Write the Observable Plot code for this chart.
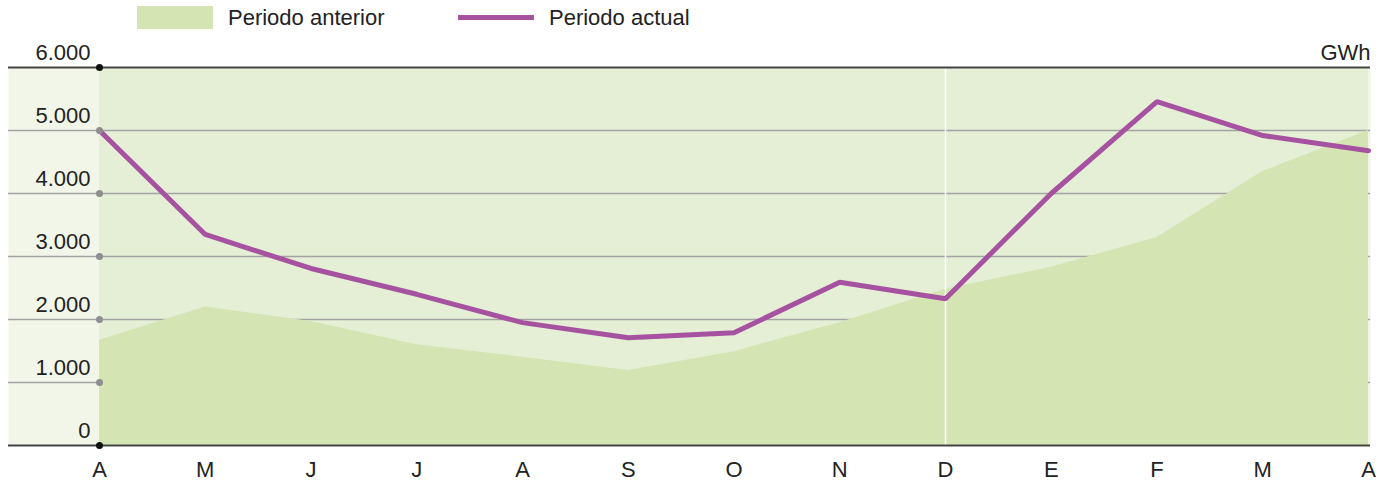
<!DOCTYPE html>
<html>
<head>
<meta charset="utf-8">
<script src="https://cdn.jsdelivr.net/npm/d3@7"></script>
<script src="https://cdn.jsdelivr.net/npm/@observablehq/plot@0.6"></script>
<style>
  html, body { margin: 0; padding: 0; background: #fff; }
  body { width: 1392px; height: 481px; overflow: hidden; font-family: "Liberation Sans", Arial, sans-serif; color: #222; }
  #legend { position: relative; height: 38px; font-size: 22px; }
  #legend .sw { position: absolute; }
  #legend .lb { position: absolute; top: 3px; line-height: 30px; }
</style>
</head>
<body>
<div id="legend">
  <div class="sw" style="left:137px;top:6px;width:76px;height:23px;background:#d4e5b3"></div>
  <div class="lb" style="left:228px">Periodo anterior</div>
  <div class="sw" style="left:458px;top:15px;width:76px;height:5px;background:#a652a0"></div>
  <div class="lb" style="left:549px">Periodo actual</div>
</div>
<div id="chart"></div>
<script>
const months = ["A","M","J","J","A","S","O","N","D","E","F","M","A"];
const periodoAnterior = [1670, 2200, 1970, 1600, 1400, 1190, 1490, 1950, 2480, 2830, 3300, 4350, 5000];
const periodoActual  = [5000, 3350, 2810, 2400, 1950, 1710, 1790, 2590, 2330, 4000, 5460, 4920, 4680];
const yTicks = [0, 1000, 2000, 3000, 4000, 5000, 6000];
const unit = "GWh";

const fmt = d3.formatLocale({decimal: ",", thousands: ".", grouping: [3], currency: ["", ""]}).format(",");
const idx = d3.range(months.length);
const prev = idx.map(i => ({i, v: periodoAnterior[i]}));
const curr = idx.map(i => ({i, v: periodoActual[i]}));

const chart = Plot.plot({
  width: 1392,
  height: 443,
  marginTop: 29,
  marginBottom: 36,
  marginLeft: 8,
  marginRight: 22,
  style: {fontFamily: "'Liberation Sans', Arial, sans-serif", fontSize: "22px", color: "#222", background: "transparent", overflow: "visible"},
  x: {domain: [0, 12], range: [99, 1368], axis: null},
  y: {domain: [0, 6000], axis: null},
  marks: [
    Plot.frame({fill: "#f2f6e9", stroke: null}),
    Plot.rect([{x1: 0, x2: 12, y1: 0, y2: 6000}], {x1: "x1", x2: "x2", y1: "y1", y2: "y2", fill: "#e5efd6"}),
    Plot.ruleY(yTicks.filter(d => d > 0 && d < 6000), {stroke: "#a3a3a3", strokeWidth: 1.5}),
    Plot.areaY(prev, {x: "i", y: "v", fill: "#d4e5b3"}),
    Plot.ruleX([8], {y1: 0, y2: 6000, stroke: "#ffffff", strokeWidth: 1.5}),
    Plot.ruleY([0, 6000], {stroke: "#444", strokeWidth: 2}),
    Plot.line(curr, {x: "i", y: "v", stroke: "#a652a0", strokeWidth: 5, strokeLinejoin: "miter"}),
    Plot.dot(yTicks, {x: () => 0, y: d => d, r: 3.5, fill: d => (d === 0 || d === 6000) ? "#111" : "#8f8f8f", stroke: null}),
    Plot.text(yTicks, {x: () => 0, y: d => d, text: d => fmt(d), textAnchor: "end", lineAnchor: "middle", dx: -9, dy: -15, fill: "#222"}),
    Plot.text([unit], {x: () => 12, y: () => 6000, text: d => d, textAnchor: "end", lineAnchor: "middle", dx: 2, dy: -15, fill: "#222"}),
    Plot.text(idx, {x: d => d, y: () => 0, text: d => months[d], textAnchor: "middle", lineAnchor: "middle", dy: 24, fill: "#222"})
  ]
});
document.getElementById("chart").appendChild(chart);
</script>
</body>
</html>
